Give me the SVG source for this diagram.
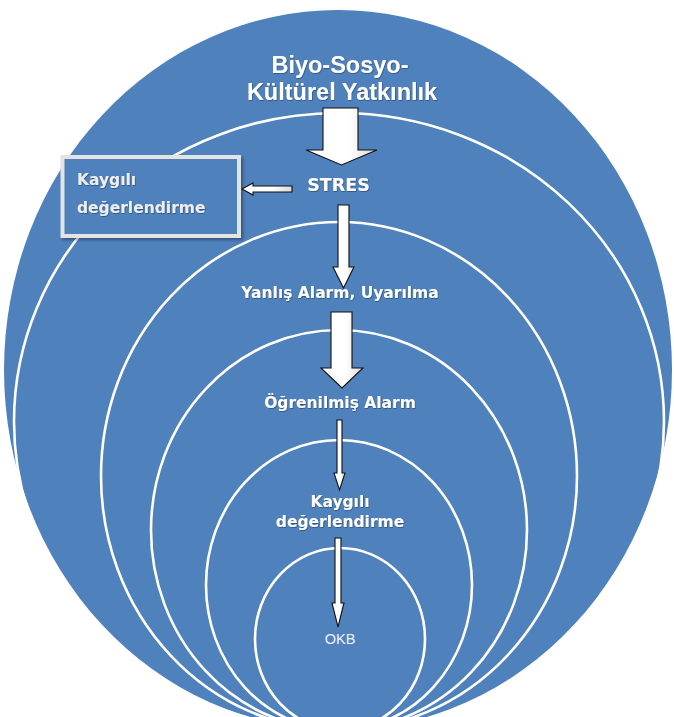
<svg xmlns="http://www.w3.org/2000/svg" width="674" height="717" viewBox="0 0 674 717">
  <defs>
    <linearGradient id="arrowFill" x1="0" y1="0" x2="1" y2="0">
      <stop offset="0" stop-color="#ffffff"/>
      <stop offset="0.6" stop-color="#ffffff"/>
      <stop offset="1" stop-color="#d9d9d9"/>
    </linearGradient>
    <filter id="txtShadow" x="-10%" y="-30%" width="120%" height="160%">
      <feDropShadow dx="0.6" dy="0.8" stdDeviation="0.5" flood-color="#1f3a5f" flood-opacity="0.7"/>
    </filter>
    <filter id="boxShadow" x="-10%" y="-10%" width="130%" height="130%">
      <feDropShadow dx="2" dy="2" stdDeviation="1.5" flood-color="#000" flood-opacity="0.35"/>
    </filter>
  </defs>
  <style>
    .ring { fill: none; stroke: #ffffff; stroke-width: 2.6; }
    .arrow { fill: url(#arrowFill); stroke: #111111; stroke-width: 1.1; stroke-linejoin: miter; }
    .lbl { fill: #ffffff; font-family: "DejaVu Sans", Verdana, sans-serif; font-weight: bold; font-size: 15.5px; text-anchor: middle; filter: url(#txtShadow); }
    .title { fill: #ffffff; font-family: "Liberation Sans", Arial, sans-serif; font-weight: bold; font-size: 23.5px; text-anchor: middle; filter: url(#txtShadow); }
    .boxlbl { fill: #eeeeee; font-family: "DejaVu Sans", Verdana, sans-serif; font-weight: bold; font-size: 15.5px; filter: url(#txtShadow); }
    .small { fill: #eef4ff; font-family: "Liberation Sans", Arial, sans-serif; font-size: 14.5px; text-anchor: middle; }
  </style>

  <g id="background">
    <ellipse cx="338" cy="370" rx="334" ry="360" fill="#4f81bd"/>
  </g>

  <g id="rings">
    <ellipse class="ring" cx="339" cy="421.5" rx="325" ry="308.5"/>
    <ellipse class="ring" cx="339" cy="476" rx="238" ry="254"/>
    <ellipse class="ring" cx="339" cy="530" rx="188" ry="200"/>
    <ellipse class="ring" cx="339" cy="585" rx="133" ry="145"/>
    <ellipse class="ring" cx="340" cy="639" rx="85" ry="91"/>
  </g>

  <g id="node-biyo">
    <text class="title" x="340" y="73">Biyo-Sosyo-</text>
    <text class="title" x="342" y="100">Kültürel Yatkınlık</text>
  </g>

  <g id="node-stres">
    <text class="lbl" x="338.5" y="191" style="font-size:17.5px">STRES</text>
  </g>

  <g id="node-kaygili-box">
    <rect x="62.5" y="157" width="176.5" height="79" fill="#4f81bd" stroke="#e4e4e4" stroke-width="4" filter="url(#boxShadow)"/>
    <text class="boxlbl" x="77" y="185">Kaygılı</text>
    <text class="boxlbl" x="77" y="213">değerlendirme</text>
  </g>

  <g id="node-yanlis">
    <text class="lbl" x="340" y="298">Yanlış Alarm, Uyarılma</text>
  </g>

  <g id="node-ogrenilmis">
    <text class="lbl" x="340" y="408">Öğrenilmiş Alarm</text>
  </g>

  <g id="node-kaygili">
    <text class="lbl" x="340" y="507">Kaygılı</text>
    <text class="lbl" x="340" y="527">değerlendirme</text>
  </g>

  <g id="node-okb">
    <text class="small" x="340" y="644">OKB</text>
  </g>

  <g id="connectors">
    <polygon class="arrow" points="323,108 358,108 358,150 377,150 341.5,165 306,150 323,150"/>
    <polygon class="arrow" points="292,186 253,186 253,183 242,189 253,195 253,192 292,192"/>
    <polygon class="arrow" points="338,205 349,205 349,267 354,267 343.5,288 333,267 338,267"/>
    <polygon class="arrow" points="331,312 352,312 352,368 363,368 342,388 321,368 331,368"/>
    <polygon class="arrow" points="337,420 342,420 342,473 345,473 339.5,490 334,473 337,473"/>
    <polygon class="arrow" points="335,538 341,538 341,603 344,603 338,627 332,603 335,603"/>
  </g>
</svg>
